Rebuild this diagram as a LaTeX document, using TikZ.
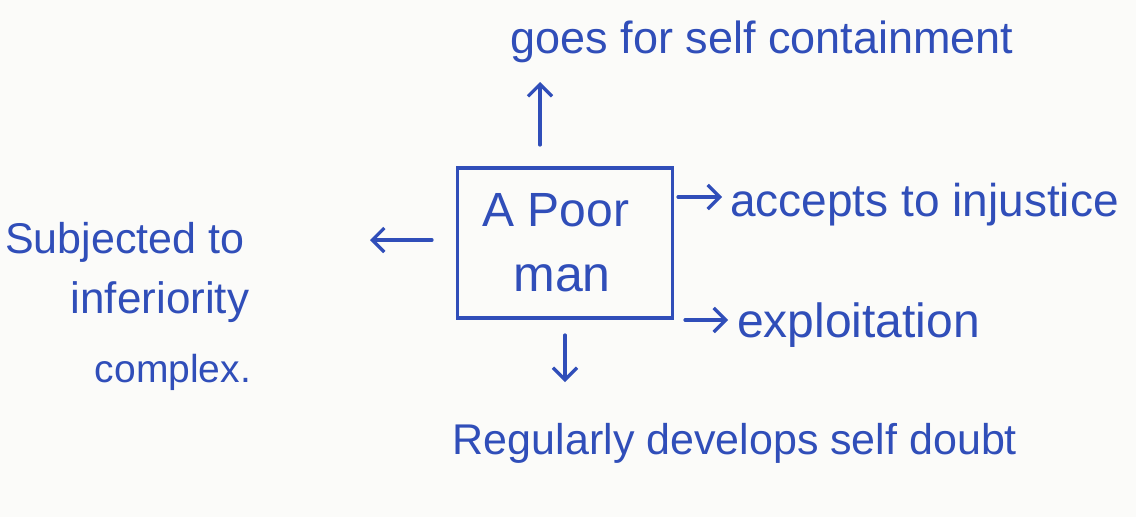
\documentclass[tikz,border=0pt]{standalone}
\usepackage{fontspec}
\setmainfont{Liberation Sans}
\usetikzlibrary{arrows.meta}
\definecolor{ink}{RGB}{48,78,185}
\definecolor{paper}{RGB}{251,251,249}
\begin{document}
\begin{tikzpicture}[x=1pt,y=-1pt,
  lbl/.style={text=ink,font=\fontsize{#1}{#1}\selectfont,inner sep=0pt},
  lbl/.default=44,
  arr/.style={draw=ink,line width=3.2pt,line cap=round,-{Straight Barb[length=12pt,width=24pt,line width=3.2pt]}}]
  % page
  \fill[paper] (0,0) rectangle (1136,517);
  \useasboundingbox (0,0) rectangle (1136,517);

  % central box
  \node[draw=ink,line width=3.4pt,minimum width=215pt,minimum height=150pt,inner sep=0pt] (box) at (565,243) {};
  \node[lbl=48] (l1) at (556,210) {A Poor};
  \node[lbl=50] (l2) at (562,278) {man};

  % outcomes
  \node[lbl=45] (top) at (762,42) {goes for self containment};
  \node[lbl=46,anchor=west] (acc) at (730,205) {accepts to injustice};
  \node[lbl=48,anchor=west] (expl) at (737,325) {exploitation};
  \node[lbl=43] (bot) at (735,443) {Regularly develops self doubt};
  \node[lbl=43,anchor=west] (sub1) at (5,242) {Subjected to};
  \node[lbl=44] (sub2) at (160,302) {inferiority};
  \node[lbl=39] (sub3) at (173,372) {complex.};

  % arrow ends
  \coordinate (uA) at (540,145); \coordinate (uB) at (540,82);
  \coordinate (lA) at (432,240); \coordinate (lB) at (370,240);
  \coordinate (r1A) at (678,197); \coordinate (r1B) at (722,197);
  \coordinate (r2A) at (685,320); \coordinate (r2B) at (728,320);
  \coordinate (dA) at (565,335); \coordinate (dB) at (565,382);

  \draw[arr] (uA) -- (uB);
  \draw[arr] (lA) -- (lB);
  \draw[arr] (r1A) -- (r1B);
  \draw[arr] (r2A) -- (r2B);
  \draw[arr] (dA) -- (dB);
\end{tikzpicture}
\end{document}
